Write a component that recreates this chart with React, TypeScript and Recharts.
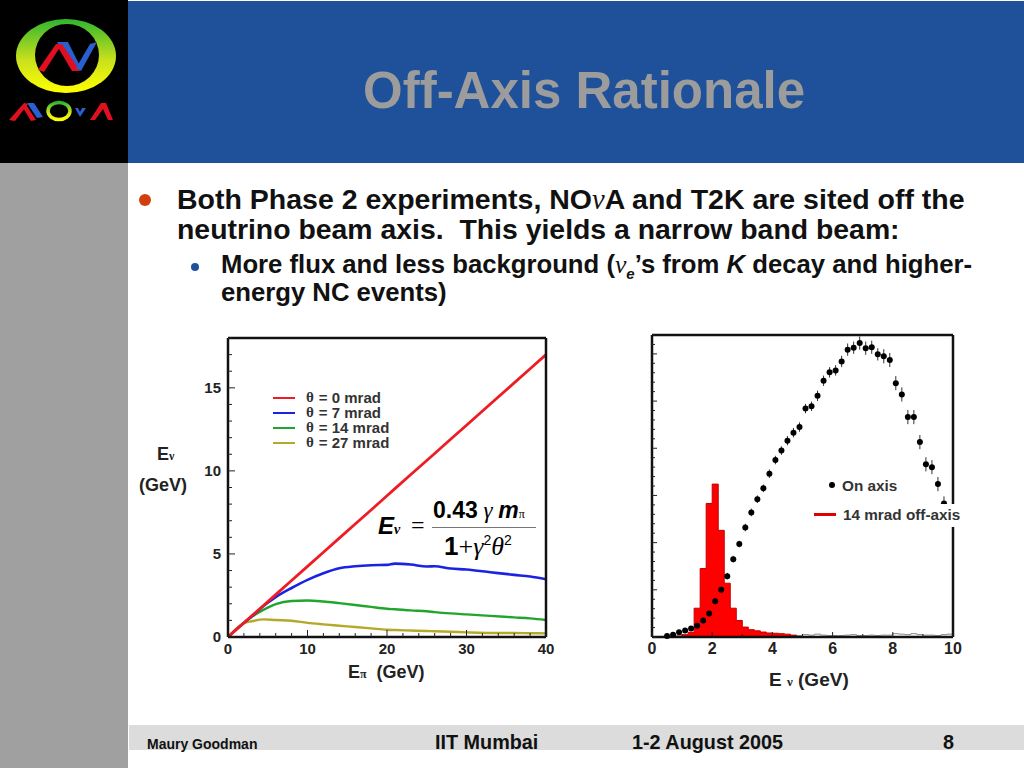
import React from 'react';
import { ComposedChart, LineChart, Line, Area, Scatter, ErrorBar, XAxis, YAxis, Legend } from 'recharts';

// left plot: neutrino energy vs pion energy
const pionEnergy = [0, 2, 3, 4.5, 6, 8, 10, 12, 14, 16, 18, 20, 21, 23, 25, 26, 28, 30, 33, 36, 38, 40];
const mrad0 = [0, 0.85, 1.28, 1.91, 2.55, 3.4, 4.25, 5.1, 5.95, 6.8, 7.65, 8.5, 8.93, 9.78, 10.63, 11.05, 11.9, 12.75, 14.03, 15.3, 16.15, 17.0];
const mrad7 = [0, 0.85, 1.25, 1.88, 2.4, 2.95, 3.44, 3.84, 4.14, 4.26, 4.32, 4.34, 4.42, 4.36, 4.24, 4.26, 4.12, 4.06, 3.9, 3.74, 3.64, 3.48];
const mrad14 = [0, 0.85, 1.22, 1.65, 1.98, 2.17, 2.2, 2.14, 2.04, 1.93, 1.81, 1.7, 1.67, 1.6, 1.55, 1.5, 1.42, 1.36, 1.27, 1.18, 1.12, 1.02];
const mrad27 = [0, 0.84, 0.95, 1.06, 1.02, 0.98, 0.85, 0.76, 0.68, 0.6, 0.52, 0.44, 0.42, 0.39, 0.36, 0.35, 0.32, 0.28, 0.24, 0.24, 0.23, 0.22];

// right plot: on axis points
const onAxisEnergy = [0.5, 0.7, 0.9, 1.1, 1.3, 1.5, 1.7, 1.9, 2.1, 2.3, 2.5, 2.7, 2.9, 3.1, 3.3, 3.5, 3.7, 3.9, 4.1, 4.3, 4.5, 4.7, 4.9, 5.1, 5.3, 5.5, 5.7, 5.9, 6.1, 6.3, 6.5, 6.7, 6.9, 7.1, 7.3, 7.5, 7.7, 7.9, 8.1, 8.3, 8.5, 8.7, 8.9, 9.1, 9.3, 9.5, 9.7];
const onAxisFlux = [0.02, 0.05, 0.1, 0.14, 0.18, 0.24, 0.35, 0.5, 0.76, 1.0, 1.29, 1.65, 1.97, 2.32, 2.64, 2.92, 3.15, 3.46, 3.75, 3.95, 4.16, 4.33, 4.45, 4.84, 4.89, 5.11, 5.43, 5.61, 5.65, 5.84, 6.09, 6.13, 6.23, 6.12, 6.14, 5.99, 5.95, 5.87, 5.38, 5.14, 4.66, 4.66, 4.13, 3.66, 3.6, 3.24, 2.83];
const onAxisFluxErr = [0, 0.02, 0.03, 0.04, 0.05, 0.05, 0.06, 0.06, 0.07, 0.07, 0.07, 0.07, 0.07, 0.08, 0.08, 0.08, 0.08, 0.09, 0.09, 0.09, 0.1, 0.1, 0.1, 0.1, 0.1, 0.11, 0.11, 0.11, 0.11, 0.12, 0.13, 0.13, 0.14, 0.14, 0.14, 0.13, 0.15, 0.15, 0.15, 0.15, 0.15, 0.15, 0.15, 0.15, 0.15, 0.15, 0.15];

// right plot: 14 mrad histogram, step edges
const binEdge = [0.8, 1.0, 1.2, 1.4, 1.6, 1.8, 2.0, 2.2, 2.4, 2.6, 2.8, 3.0, 3.2, 3.4, 3.6, 3.8, 4.0, 4.2, 4.4, 4.6, 4.8];
const offAxisFlux = [0.02, 0.05, 0.1, 0.61, 1.45, 2.83, 3.24, 2.26, 1.14, 0.61, 0.35, 0.21, 0.155, 0.13, 0.105, 0.085, 0.08, 0.07, 0.06, 0.04, 0];
const tailEdge = [4.8, 5.0, 5.2, 5.4, 5.6, 5.8, 6.0, 6.2, 6.4, 6.6, 6.8, 7.0, 7.2, 7.4, 7.6, 7.8, 8.0, 8.2, 8.4, 8.6, 8.8, 9.0, 9.2, 9.4, 9.6, 9.8, 10];
const tailFlux = [0.03, 0.05, 0.04, 0.06, 0.04, 0.03, 0.03, 0.03, 0.04, 0.05, 0.03, 0.03, 0.04, 0.03, 0.04, 0.04, 0.07, 0.06, 0.05, 0.07, 0.05, 0.04, 0.04, 0.03, 0.05, 0.06, 0.06];

const leftXTicks = [0, 2, 4, 6, 8, 10, 12, 14, 16, 18, 20, 22, 24, 26, 28, 30, 32, 34, 36, 38, 40];
const leftXLabels = [0, 10, 20, 30, 40];
const leftYTicks = [0, 1, 2, 3, 4, 5, 6, 7, 8, 9, 10, 11, 12, 13, 14, 15, 16, 17, 18];
const leftYLabels = [0, 5, 10, 15];
const rightXTicks = [0, 1, 2, 3, 4, 5, 6, 7, 8, 9, 10];
const rightXLabels = [0, 2, 4, 6, 8, 10];
const rightYTicks = [0, 0.2, 0.4, 0.6, 0.8, 1, 1.2, 1.4, 1.6, 1.8, 2, 2.2, 2.4, 2.6, 2.8, 3, 3.2, 3.4, 3.6, 3.8, 4, 4.2, 4.4, 4.6, 4.8, 5, 5.2, 5.4, 5.6, 5.8, 6, 6.2, 6.4];
const rightYMajor = [0, 1, 2, 3, 4, 5, 6];

const toRows = (xs: number[], ys: number[]) => xs.map((x, i) => ({ x, y: ys[i] }));
const onAxisRows = onAxisEnergy.map((x, i) => ({ x, y: onAxisFlux[i], yErr: onAxisFluxErr[i], xErr: 0.08 }));

const SANS = '"Liberation Sans", Arial, sans-serif';
const GREEK = '"Liberation Serif", serif';

const FrameTick = ({ x, y, payload, side, major, labels, long = 7, short = 4, labelSize = 15 }: any) => {
  const len = major.includes(payload.value) ? long : short;
  const dx = side === 'left' ? len : side === 'right' ? -len : 0;
  const dy = side === 'bottom' ? -len : side === 'top' ? len : 0;
  const showLabel = labels && labels.includes(payload.value);
  return (
    <g>
      <line x1={x} y1={y} x2={x + dx} y2={y + dy} stroke="#222" strokeWidth={1} />
      {showLabel && side === 'bottom' && (
        <text x={x} y={y + 17} textAnchor="middle" fontFamily={SANS} fontWeight="bold" fontSize={labelSize} fill="#222">{payload.value}</text>
      )}
      {showLabel && side === 'left' && (
        <text x={x - 7} y={y + 5} textAnchor="end" fontFamily={SANS} fontWeight="bold" fontSize={labelSize} fill="#222">{payload.value}</text>
      )}
    </g>
  );
};

const AngleLegend = ({ payload }: any) => (
  <div style={{ fontFamily: SANS, fontWeight: 'bold', fontSize: 15, color: '#333', lineHeight: '15px' }}>
    {[...(payload || [])].reverse().map((p: any) => (
      <div key={p.value} style={{ display: 'flex', alignItems: 'center', height: 15 }}>
        <span style={{ display: 'inline-block', width: 22, height: 2, background: p.color, marginRight: 11 }} />
        <span style={{ fontFamily: GREEK, marginRight: 5 }}>θ</span>
        <span>{p.value}</span>
      </div>
    ))}
  </div>
);

const FluxLegend = () => (
  <div style={{ fontFamily: SANS, fontWeight: 'bold', fontSize: 15.3, color: '#333', width: 156, height: 50, position: 'relative' }}>
    <span style={{ position: 'absolute', left: 0, top: 27, width: 156, height: 23, background: '#fff' }} />
    <span style={{ position: 'absolute', left: 19, top: 5, width: 6, height: 6, borderRadius: 3, background: '#000' }} />
    <span style={{ position: 'absolute', left: 32, top: 0 }}>On axis</span>
    <span style={{ position: 'absolute', left: 4, top: 36, width: 22, height: 3, background: '#e00000' }} />
    <span style={{ position: 'absolute', left: 33, top: 29 }}>14 mrad off-axis</span>
  </div>
);

const Logo = () => (
  <svg width={128} height={163} style={{ position: 'absolute', left: 0, top: 0 }}>
    <defs>
      <linearGradient id="ring" x1="0" y1="0" x2="0" y2="1">
        <stop offset="0" stopColor="#2fb52f" />
        <stop offset="0.55" stopColor="#c8e01c" />
        <stop offset="1" stopColor="#ffff00" />
      </linearGradient>
    </defs>
    <rect width={128} height={163} fill="#000" />
    <ellipse cx={66} cy={56} rx={50} ry={37} fill="url(#ring)" />
    <ellipse cx={67} cy={55} rx={32} ry={31} fill="#000" />
    <path d="M38 70 L56 44 L62 44 L44 72 Z" fill="#e01020" />
    <path d="M57 42 L68 42 L80 66 L73 70 Z" fill="#2a5fd0" />
    <path d="M56 44 L72 71 L80 71 L62 44 Z" fill="#e01020" />
    <path d="M76 68 L90 44 L97 42 L81 71 Z" fill="#2a5fd0" />
    <path d="M9 120 L24 103 L28 104 L15 121 Z" fill="#e01020" />
    <path d="M27 103 L34 103 L43 117 L37 118 Z" fill="#2a5fd0" />
    <path d="M25 103 L36 120 L31 121 L22 106 Z" fill="#e01020" />
    <ellipse cx={59} cy={111} rx={11} ry={8.5} fill="none" stroke="url(#ring)" strokeWidth={3.5} />
    <path d="M75 108 L80 117 L86 108 L82 108 L80 112 L78 108 Z" fill="#2a5fd0" />
    <path d="M90 120 L101 103 L106 103 L113 120 L108 120 L103 109 L95 120 Z" fill="#e01020" />
  </svg>
);

const Abs = ({ left, top, style, children }: any) => (
  <div style={{ position: 'absolute', left, top, whiteSpace: 'pre', ...style }}>{children}</div>
);

const Nu = () => <span style={{ fontFamily: GREEK, fontStyle: 'italic', fontWeight: 'normal' }}>ν</span>;

const EnergyPlot = () => (
  <div style={{ position: 'absolute', left: 130, top: 330 }}>
    <LineChart width={430} height={370} margin={{ top: 7, right: 13, bottom: 33, left: 68 }}>
      <XAxis dataKey="x" type="number" domain={[0, 40]} ticks={leftXTicks} interval={0} height={30} tickSize={0} tickMargin={0}
        stroke="#111" strokeWidth={2.5} tickLine={false} tick={(p: any) => <FrameTick {...p} side="bottom" major={leftXLabels} labels={leftXLabels} />} />
      <XAxis xAxisId="top" orientation="top" type="number" domain={[0, 40]} ticks={leftXTicks} interval={0} height={1} tickSize={0} tickMargin={0}
        stroke="#111" strokeWidth={2.5} tickLine={false} tick={(p: any) => <FrameTick {...p} side="top" major={leftXLabels} />} />
      <YAxis type="number" domain={[0, 18]} ticks={leftYTicks} interval={0} width={30} tickSize={0} tickMargin={0}
        stroke="#111" strokeWidth={2.5} tickLine={false} tick={(p: any) => <FrameTick {...p} side="left" major={leftYLabels} labels={leftYLabels} />} />
      <YAxis yAxisId="right" orientation="right" type="number" domain={[0, 18]} ticks={leftYTicks} interval={0} width={1} tickSize={0} tickMargin={0}
        stroke="#111" strokeWidth={2.5} tickLine={false} tick={(p: any) => <FrameTick {...p} side="right" major={leftYLabels} />} />
      <Line data={toRows(pionEnergy, mrad27)} dataKey="y" name="= 27 mrad" type="monotone" stroke="#b5a92a" strokeWidth={2.4} dot={false} isAnimationActive={false} />
      <Line data={toRows(pionEnergy, mrad14)} dataKey="y" name="= 14 mrad" type="monotone" stroke="#22a52c" strokeWidth={2.4} dot={false} isAnimationActive={false} />
      <Line data={toRows(pionEnergy, mrad7)} dataKey="y" name="= 7 mrad" type="monotone" stroke="#1a24e0" strokeWidth={2.6} dot={false} isAnimationActive={false} />
      <Line data={toRows(pionEnergy, mrad0)} dataKey="y" name="= 0 mrad" stroke="#ee1c25" strokeWidth={2.8} dot={false} isAnimationActive={false} />
      <Legend layout="vertical" align="center" verticalAlign="middle" itemSorter={null} content={AngleLegend}
        wrapperStyle={{ position: 'absolute', left: 143, top: 60, width: 140, height: 60 }} />
    </LineChart>
  </div>
);

const FluxPlot = () => (
  <div style={{ position: 'absolute', left: 630, top: 328 }}>
    <ComposedChart width={350} height={372} margin={{ top: 6, right: 26, bottom: 33, left: 21 }}>
      <XAxis dataKey="x" type="number" domain={[0, 10]} ticks={rightXTicks} interval={0} height={30} tickSize={0} tickMargin={0}
        stroke="#111" strokeWidth={2.5} tickLine={false} tick={(p: any) => <FrameTick {...p} side="bottom" major={rightXLabels} labels={rightXLabels} long={5} short={3} labelSize={16} />} />
      <XAxis xAxisId="top" orientation="top" type="number" domain={[0, 10]} ticks={rightXTicks} interval={0} height={1} tickSize={0} tickMargin={0}
        stroke="#111" strokeWidth={2.5} tickLine={false} tick={(p: any) => <FrameTick {...p} side="top" major={rightXLabels} long={4} short={3} />} />
      <YAxis type="number" domain={[0, 6.4]} ticks={rightYTicks} interval={0} width={1} tickSize={0} tickMargin={0}
        stroke="#111" strokeWidth={2.5} tickLine={false} tick={(p: any) => <FrameTick {...p} side="left" major={rightYMajor} long={5} short={3} />} />
      <YAxis yAxisId="right" orientation="right" type="number" domain={[0, 6.4]} ticks={rightYTicks} interval={0} width={1} tickSize={0} tickMargin={0}
        stroke="#111" strokeWidth={2.5} tickLine={false} tick={(p: any) => <FrameTick {...p} side="right" major={rightYMajor} long={5} short={3} />} />
      <Area data={toRows(tailEdge, tailFlux)} dataKey="y" type="stepAfter" stroke="#888" strokeWidth={1} fill="#fff" fillOpacity={1} dot={false} legendType="none" isAnimationActive={false} />
      <Area data={toRows(binEdge, offAxisFlux)} dataKey="y" name="14 mrad off-axis" type="stepAfter" stroke="#c00000" strokeWidth={1} fill="#ff0000" fillOpacity={1} dot={false} isAnimationActive={false} />
      <Scatter data={onAxisRows} dataKey="y" name="On axis" fill="#000" isAnimationActive={false}
        shape={(p: any) => <circle cx={p.cx} cy={p.cy} r={3} fill="#000" />}>
        <ErrorBar dataKey="yErr" direction="y" width={0} stroke="#333" strokeWidth={1} isAnimationActive={false} />
        <ErrorBar dataKey="xErr" direction="x" width={0} stroke="#333" strokeWidth={1} isAnimationActive={false} />
      </Scatter>
      <Legend layout="vertical" align="center" verticalAlign="middle" content={FluxLegend}
        wrapperStyle={{ position: 'absolute', left: 180, top: 149, width: 156, height: 50 }} />
    </ComposedChart>
  </div>
);

export default function App() {
  const bold = { fontFamily: SANS, fontWeight: 'bold', color: '#111' };
  return (
    <div style={{ position: 'absolute', left: 0, top: 0, width: 1024, height: 768, overflow: 'hidden', background: '#fff' }}>
      <div style={{ position: 'absolute', left: 128, top: 1, width: 896, height: 162, background: '#1e5199' }} />
      <div style={{ position: 'absolute', left: 0, top: 163, width: 128, height: 605, background: '#a0a0a0' }} />
      <Logo />
      <Abs left={363} top={62} style={{ fontFamily: SANS, fontWeight: 'bold', fontSize: 51, lineHeight: '58px', color: '#9c9c9c' }}>Off-Axis Rationale</Abs>

      <div style={{ position: 'absolute', left: 139, top: 194, width: 12, height: 12, borderRadius: 6, background: '#d0400f' }} />
      <Abs left={177} top={183} style={{ ...bold, fontSize: 28.5 }}>Both Phase 2 experiments, NO<Nu />A and T2K are sited off the</Abs>
      <Abs left={177} top={213} style={{ ...bold, fontSize: 28.4 }}>neutrino beam axis.  This yields a narrow band beam:</Abs>
      <div style={{ position: 'absolute', left: 191, top: 263, width: 8, height: 8, borderRadius: 4, background: '#1e5199' }} />
      <Abs left={221} top={250} style={{ ...bold, fontSize: 25.7 }}>More flux and less background (<Nu /><sub style={{ fontStyle: 'italic', fontSize: 15, lineHeight: 0 }}>e</sub>’s from <i>K</i> decay and higher-</Abs>
      <Abs left={221} top={278} style={{ ...bold, fontSize: 25.7 }}>energy NC events)</Abs>

      <EnergyPlot />
      <FluxPlot />

      {/* axis titles */}
      <Abs left={157} top={444} style={{ ...bold, fontSize: 18, color: '#222' }}>E<span style={{ fontFamily: GREEK, fontSize: 12 }}>ν</span></Abs>
      <Abs left={139} top={475} style={{ ...bold, fontSize: 18, color: '#222' }}>(GeV)</Abs>
      <Abs left={348} top={662} style={{ ...bold, fontSize: 18, color: '#222' }}>E<span style={{ fontFamily: GREEK, fontSize: 12 }}>π</span>  (GeV)</Abs>
      <Abs left={769} top={669} style={{ ...bold, fontSize: 19, color: '#222' }}>E <span style={{ fontFamily: GREEK, fontSize: 13 }}>ν</span> (GeV)</Abs>

      {/* formula */}
      <Abs left={378} top={512} style={{ ...bold, fontStyle: 'italic', fontSize: 24, color: '#000' }}>E<span style={{ fontFamily: GREEK, fontSize: 14 }}>ν</span></Abs>
      <Abs left={411} top={512} style={{ fontFamily: GREEK, fontSize: 24, color: '#000' }}>=</Abs>
      <div style={{ position: 'absolute', left: 432, top: 527, width: 104, height: 1, background: '#777' }} />
      <Abs left={433} top={497} style={{ ...bold, fontSize: 23, color: '#000' }}>0.43<span style={{ fontFamily: GREEK, fontStyle: 'italic', fontWeight: 'normal' }}> γ </span><i>m</i><span style={{ fontFamily: GREEK, fontSize: 12, fontWeight: 'normal' }}>π</span></Abs>
      <Abs left={444} top={531} style={{ ...bold, fontSize: 26, color: '#000' }}>1<span style={{ fontFamily: GREEK, fontWeight: 'normal' }}>+</span><span style={{ fontFamily: GREEK, fontStyle: 'italic', fontWeight: 'normal' }}>γ</span><sup style={{ fontSize: 14, lineHeight: 0, fontWeight: 'normal' }}>2</sup><span style={{ fontFamily: GREEK, fontStyle: 'italic', fontWeight: 'normal' }}>θ</span><sup style={{ fontSize: 14, lineHeight: 0, fontWeight: 'normal' }}>2</sup></Abs>

      {/* footer */}
      <div style={{ position: 'absolute', left: 129, top: 725, width: 895, height: 25, background: '#dcdcdc' }} />
      <Abs left={147} top={736} style={{ ...bold, fontSize: 14, lineHeight: '16px' }}>Maury Goodman</Abs>
      <Abs left={435} top={732} style={{ ...bold, fontSize: 19.8, lineHeight: '20px' }}>IIT Mumbai</Abs>
      <Abs left={632} top={732} style={{ ...bold, fontSize: 19.8, lineHeight: '20px' }}>1-2 August 2005</Abs>
      <Abs left={943} top={732} style={{ ...bold, fontSize: 19.8, lineHeight: '20px' }}>8</Abs>
    </div>
  );
}
